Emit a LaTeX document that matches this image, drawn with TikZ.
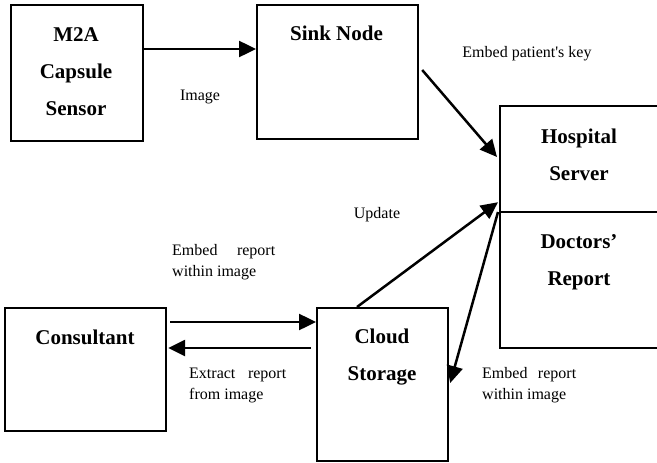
\documentclass[tikz,border=0pt]{standalone}
\usepackage{fontspec}
\setmainfont{Liberation Serif}
\usetikzlibrary{arrows.meta,calc}

\tikzset{
  box/.style={draw, line width=2.2pt, rectangle, inner sep=0pt, anchor=north west},
  title/.style={font=\fontsize{21}{37}\selectfont\bfseries, align=center, anchor=base, inner sep=0pt},
  lbl/.style={font=\fontsize{16}{21}\selectfont, anchor=base, inner sep=0pt},
  para/.style={font=\fontsize{16}{21}\selectfont, align=justify, anchor=base west, inner sep=0pt},
  flow/.style={line width=2.5pt, -{Triangle[length=17pt, width=16pt]}},
}

\begin{document}
\begin{tikzpicture}[x=1pt, y=-1pt]
\useasboundingbox (0,0) rectangle (657,463);
\clip (0,0) rectangle (657,463);

% blocks
\node[box, minimum width=132pt, minimum height=136pt] (m2a) at (10,3.5) {};
\node[box, minimum width=161pt, minimum height=134.5pt] (sink) at (256,3.5) {};
\node[box, minimum width=200pt, minimum height=106pt] (hosp) at (499,105) {};
\node[box, minimum width=200pt, minimum height=136pt] (doc) at (499,211) {};
\node[box, minimum width=161pt, minimum height=123pt] (cons) at (4,307) {};
\node[box, minimum width=131pt, minimum height=153pt] (cloud) at (316,307) {};

% block titles (multi-line titles sit on the baseline of their last line)
\node[title] (m2a-t) at (76,115) {M2A\\Capsule\\Sensor};
\node[title] (sink-t) at (336.5,40) {Sink Node};
\node[title] (hosp-t) at (579,180) {Hospital\\Server};
\node[title] (doc-t) at (579,285) {Doctors’\\Report};
\node[title] (cloud-t) at (382,380) {Cloud\\Storage};
\node[title] (cons-t) at (85,344) {Consultant};

% connectors
\draw[flow] ($(m2a.north east)+(0,45.5)$) -- ($(sink.north west)+(0,45.5)$);
\draw[flow] ($(sink.north east)+(3,66.5)$) -- ($(hosp.north west)+(-2,52)$);
\draw[flow] ($(cloud.north west)+(41,0)$) -- ($(hosp.south west)+(-1,-11)$);
\draw[flow] ($(doc.north west)+(-1,1)$) -- ($(cloud.north east)+(1,76)$);
\draw[flow] ($(cons.north east)+(3,15)$) -- ($(cloud.north west)+(0,15)$);
\draw[flow] ($(cloud.north west)+(-5,41)$) -- ($(cons.north east)+(1,41)$);

% connector labels
\node[lbl] (l-image) at (200,100) {Image};
\node[lbl] (l-key) at (527,57) {Embed patient\textquotesingle s key};
\node[lbl] (l-update) at (377,218) {Update};
\node[para, text width=103pt] (l-embed1) at (172,255) {Embed report within image};
\node[para, text width=97pt] (l-extract) at (189,378) {Extract report from image};
\node[para, text width=94pt] (l-embed2) at (482,378) {Embed report within image};
\end{tikzpicture}
\end{document}
